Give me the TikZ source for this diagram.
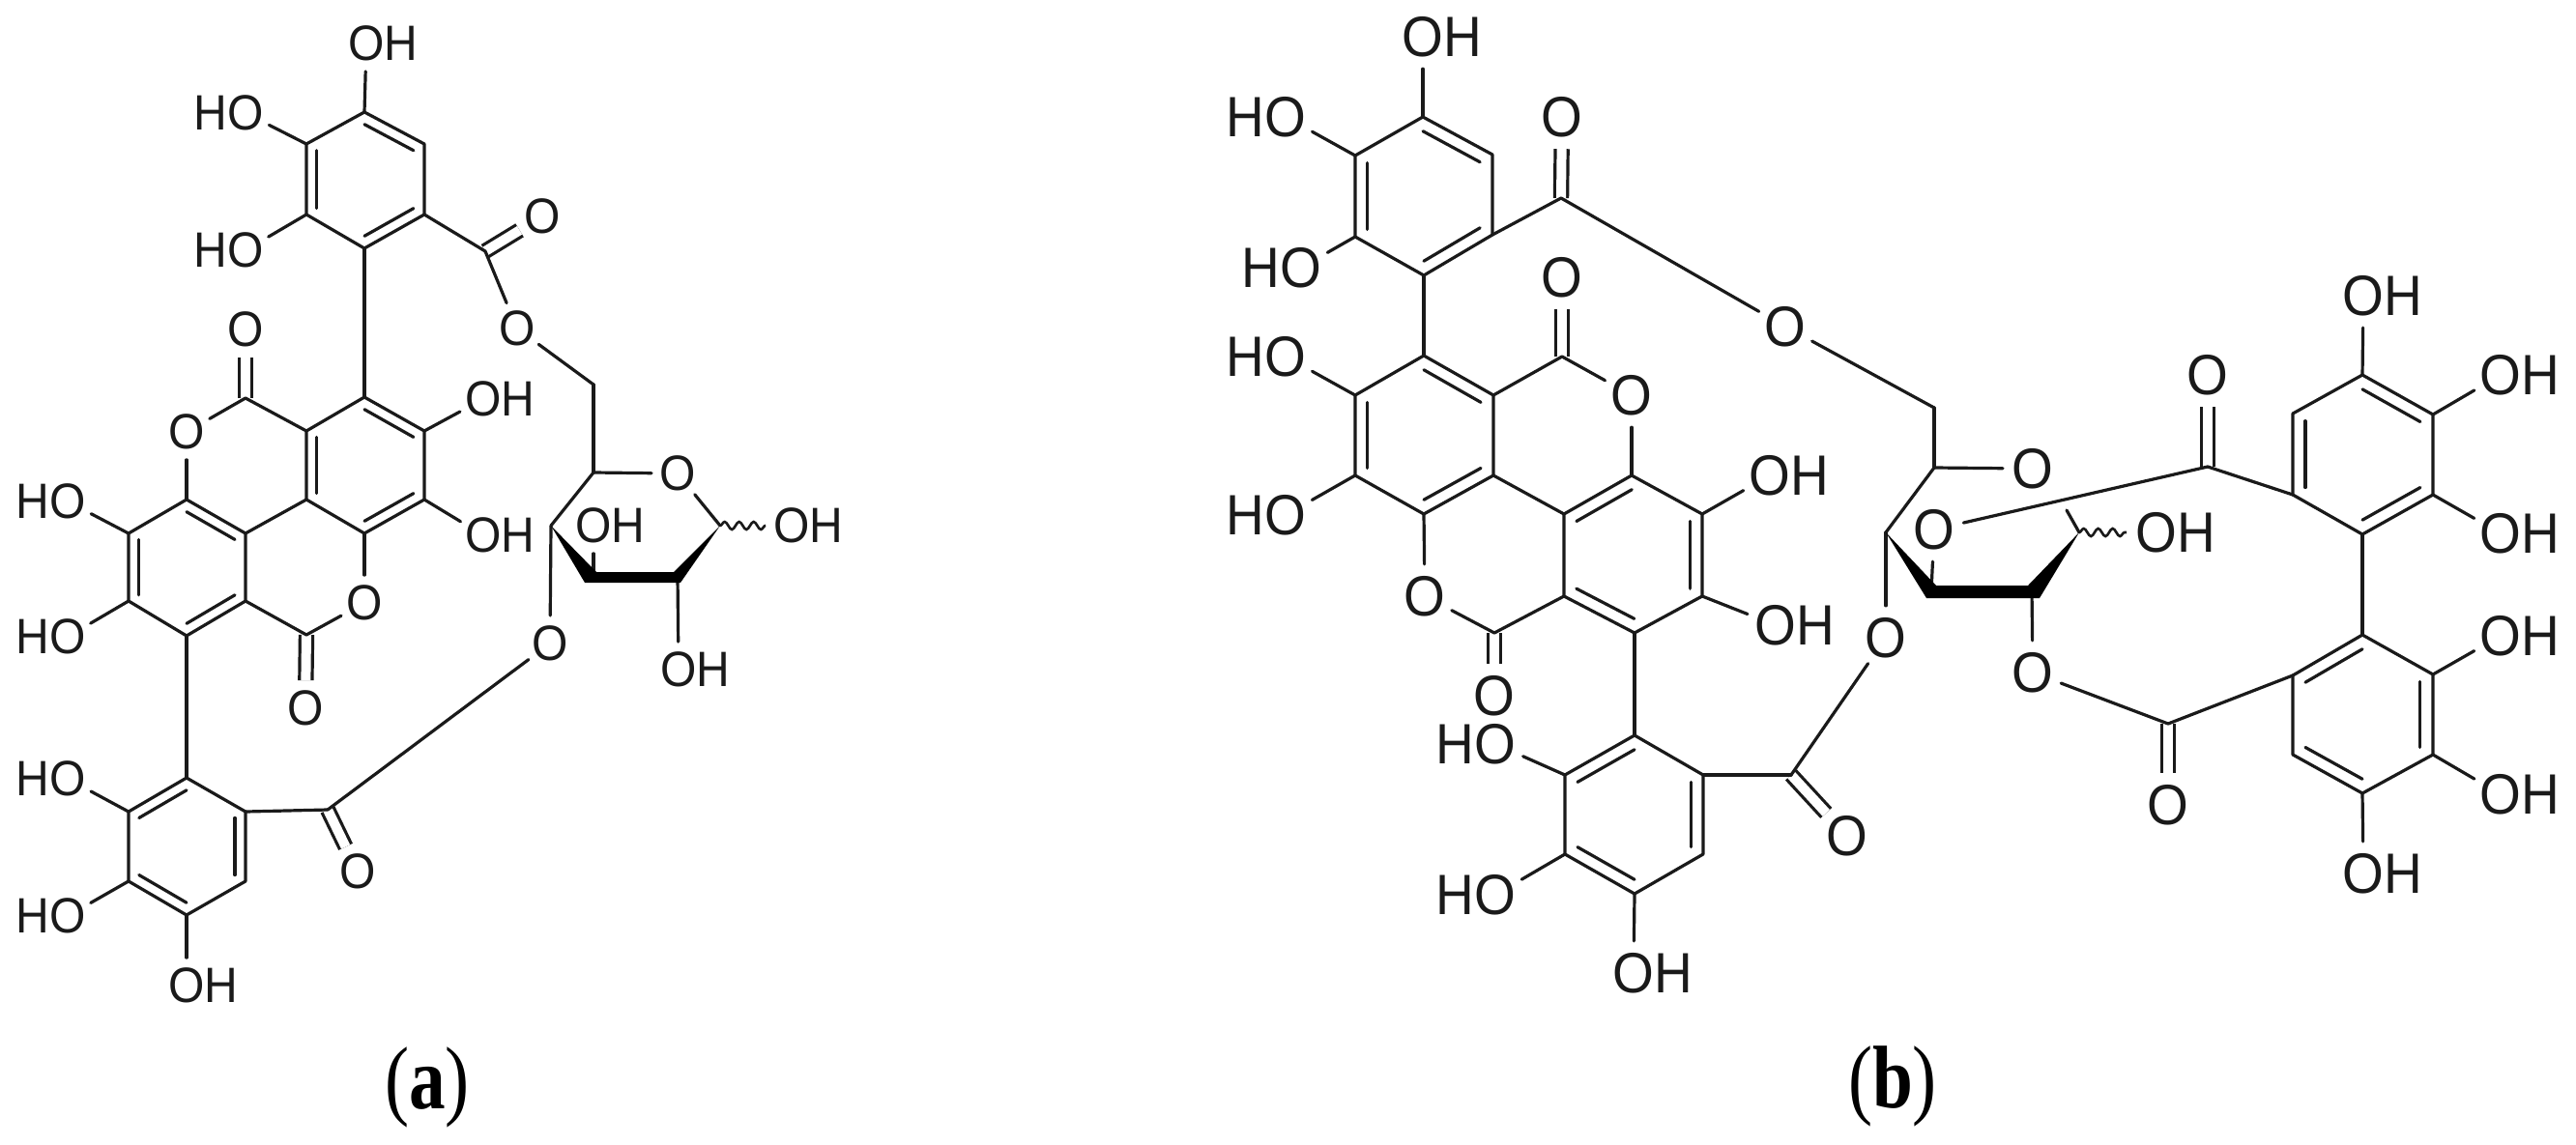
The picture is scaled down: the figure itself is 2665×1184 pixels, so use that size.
\documentclass[tikz,border=0pt]{standalone}
\usepackage{fontspec}
\setmainfont{Liberation Serif}
\newfontfamily\chemfont{Liberation Sans}
\usetikzlibrary{calc,decorations.pathmorphing}
\definecolor{ink}{HTML}{1A1A1A}
\newcommand\OH{O\rlap{H}}
\newcommand\HO{\llap{H}O}
\newcommand\vx[3]{\coordinate (#1) at (#2,#3);}
% six ring vertices: prefix, then top, upper right, lower right, bottom, lower left, upper left
\newcommand\hexring[7]{%
  \coordinate (#11) at #2; \coordinate (#12) at #3; \coordinate (#13) at #4;
  \coordinate (#14) at #5; \coordinate (#15) at #6; \coordinate (#16) at #7;
  \coordinate (#1c) at ($(#11)!.5!(#14)$);
  \draw[bond] (#11)--(#12)--(#13)--(#14)--(#15)--(#16)--cycle;}
\newcommand\idbl[3]{\draw[bond] ($(#1#2)!.18!(#1c)$) -- ($(#1#3)!.18!(#1c)$);}
\tikzset{
  bond/.style={line width=1.6pt,draw=ink,line cap=round,line join=round},
  cobond/.style={draw=ink,double=white,line width=1.6pt,double distance=5pt},
  wavy/.style={line width=1.3pt,draw=ink,decorate,decoration={snake,amplitude=2pt,segment length=7.5pt}},
  wedge/.style={fill=black,draw=none},
  atoma/.style={circle,inner sep=0pt,outer sep=0pt,minimum size=27pt,text=ink,yscale=1.07,transform shape,font=\chemfont\fontsize{24}{24}\selectfont},
  atomb/.style={circle,inner sep=0pt,outer sep=0pt,minimum size=31pt,text=ink,yscale=1.07,transform shape,font=\chemfont\fontsize{27.5}{27.5}\selectfont},
  panel/.style={text=black,xscale=.94,yscale=1.15,transform shape,font=\fontsize{40}{40}\selectfont,inner sep=0pt}
}
\begin{document}
\begin{tikzpicture}[x=0.5pt,y=-0.5pt]
\useasboundingbox (0,0) rectangle (2665,1184);
%%%%%%%%%%%%%%%%%%%%%%%% panel (a)
\hexring{at}{(377,116)}{(439,149)}{(439,222)}{(377,257)}{(317,222)}{(317,149)}
\hexring{am}{(377,411)}{(439,446)}{(439,517)}{(377,552)}{(317,517)}{(317,446)}
\hexring{al}{(193,517)}{(254,552)}{(254,622)}{(193,658)}{(133,622)}{(133,552)}
\hexring{ad}{(193,805)}{(254,840)}{(254,912)}{(193,947)}{(133,912)}{(133,840)}
\idbl{at}{1}{2}\idbl{at}{6}{5}\idbl{at}{3}{4}
\idbl{am}{1}{2}\idbl{am}{6}{5}\idbl{am}{3}{4}
\idbl{al}{1}{2}\idbl{al}{6}{5}\idbl{al}{3}{4}
\idbl{ad}{1}{6}\idbl{ad}{2}{3}\idbl{ad}{5}{4}
\vx{acu}{502}{260}\vx{acl}{254}{412}\vx{acm}{317}{657}\vx{acd}{339}{838}
\vx{ach}{614}{398}\vx{a5}{614}{489}\vx{a4}{570}{544}\vx{a3}{614}{597}\vx{a2}{701}{597}\vx{a1}{745}{544}
\node[atoma] (aoh1) at (379,45) {\OH};
\node[atoma] (aho2) at (254,117) {\HO};
\node[atoma] (aho3) at (254,259) {\HO};
\node[atoma] (aou) at (561,224) {O};
\node[atoma] (aoe) at (535,340) {O};
\node[atoma] (aol) at (254,341) {O};
\node[atoma] (aor1) at (193,447) {O};
\node[atoma] (aoh4) at (500,413) {\OH};
\node[atoma] (aoh5) at (500,554) {\OH};
\node[atoma] (aho6) at (70,519) {\HO};
\node[atoma] (aho7) at (70,659) {\HO};
\node[atoma] (aor2) at (377,624) {O};
\node[atoma] (aom) at (316,733) {O};
\node[atoma] (aho8) at (70,806) {\HO};
\node[atoma] (aho9) at (70,948) {\HO};
\node[atoma] (aoh10) at (193,1020) {\OH};
\node[atoma] (aod) at (370,902) {O};
\node[atoma] (aos) at (569,666) {O};
\node[atoma] (aor) at (701,490) {O};
\node[atoma] (aoh11) at (614,544) {\OH};
\node[atoma] (aoh12) at (819,544) {\OH};
\node[atoma] (aoh13) at (702,693) {\OH};
\foreach \p/\q in {acu/aou,acl/aol,acm/aom,acd/aod}
  \draw[cobond] (\p) -- (\q);
\foreach \p/\q in {at1/aoh1,at6/aho2,at5/aho3,at3/acu,acu/aoe,aoe/ach,ach/a5,a5/aor,aor/a1,a5/a4,
  at4/am1,am2/aoh4,am3/aoh5,am6/acl,acl/aor1,aor1/al1,al2/am5,al6/aho6,al5/aho7,am4/aor2,aor2/acm,acm/al3,
  al4/ad1,ad6/aho8,ad5/aho9,ad4/aoh10,ad2/acd,acd/aos,aos/a4,a3/aoh11,a2/aoh13}
  \draw[bond] (\p) -- (\q);
\draw[wavy] (a1) -- (aoh12);
\fill[wedge] (a4) -- (617,592) -- (697,592) -- (a1) -- (704,603) -- (605,603) -- cycle;
\node[panel] (la) at (442,1125) {(\textbf{a})};
%%%%%%%%%%%%%%%%%%%%%%%% panel (b)
\hexring{bt}{(1472,121)}{(1544,160)}{(1544,243)}{(1473,285)}{(1402,245)}{(1402,161)}
\hexring{bm}{(1473,368)}{(1545,409)}{(1545,492)}{(1473,532)}{(1402,492)}{(1402,409)}
\hexring{bl}{(1688,492)}{(1761,532)}{(1761,617)}{(1691,655)}{(1618,617)}{(1618,532)}
\hexring{bd}{(1691,761)}{(1762,802)}{(1762,884)}{(1691,925)}{(1619,884)}{(1619,802)}
\hexring{br}{(2444,388)}{(2517,429)}{(2517,512)}{(2444,553)}{(2372,512)}{(2372,428)}
\hexring{bs}{(2444,657)}{(2517,698)}{(2517,781)}{(2444,821)}{(2372,781)}{(2372,699)}
\idbl{bt}{1}{2}\idbl{bt}{6}{5}\idbl{bt}{3}{4}
\idbl{bm}{1}{2}\idbl{bm}{6}{5}\idbl{bm}{3}{4}
\idbl{bl}{1}{6}\idbl{bl}{2}{3}\idbl{bl}{5}{4}
\idbl{bd}{1}{6}\idbl{bd}{2}{3}\idbl{bd}{5}{4}
\idbl{br}{1}{2}\idbl{br}{6}{5}\idbl{br}{3}{4}
\idbl{bs}{1}{6}\idbl{bs}{2}{3}\idbl{bs}{5}{4}
\vx{bcu}{1615}{205}\vx{bcm}{1616}{369}\vx{bcl}{1546}{655}\vx{bcd}{1853}{802}
\vx{bcr}{2284}{483}\vx{bcs}{2243}{749}
\vx{bch}{2001}{422}\vx{b5}{2001}{484}\vx{b4}{1951}{551}\vx{b3}{1998}{612}\vx{b2}{2102}{612}\vx{b1}{2151}{551}\vx{bst}{2138}{528}
\node[atomb] (boh1) at (1472,38) {\OH};
\node[atomb] (bho2) at (1330,121) {\HO};
\node[atomb] (bho3) at (1346,277) {\HO};
\node[atomb] (bou) at (1616,121) {O};
\node[atomb] (boe) at (1847,338) {O};
\node[atomb] (bom) at (1616,287) {O};
\node[atomb] (bho4) at (1330,369) {\HO};
\node[atomb] (bho5) at (1330,533) {\HO};
\node[atomb] (bor1) at (1688,409) {O};
\node[atomb] (boh6) at (1831,492) {\OH};
\node[atomb] (boh7) at (1837,647) {\OH};
\node[atomb] (bor2) at (1474,617) {O};
\node[atomb] (bol) at (1546,720) {O};
\node[atomb] (bho8) at (1547,770) {\HO};
\node[atomb] (bho9) at (1547,926) {\HO};
\node[atomb] (boh10) at (1690,1007) {\OH};
\node[atomb] (bod) at (1911,865) {O};
\node[atomb] (bo4) at (1951,660) {O};
\node[atomb] (bor) at (2103,485) {O};
\node[atomb] (bo3) at (2001,548) {O};
\node[atomb] (boh11) at (2231,551) {\OH};
\node[atomb] (bo2) at (2103,696) {O};
\node[atomb] (bor3) at (2284,388) {O};
\node[atomb] (bos) at (2243,833) {O};
\node[atomb] (boh12) at (2445,306) {\OH};
\node[atomb] (boh13) at (2587,388) {\OH};
\node[atomb] (boh14) at (2587,552) {\OH};
\node[atomb] (boh15) at (2587,658) {\OH};
\node[atomb] (boh16) at (2587,822) {\OH};
\node[atomb] (boh17) at (2445,904) {\OH};
\foreach \p/\q in {bcu/bou,bcm/bom,bcl/bol,bcd/bod,bcr/bor3,bcs/bos}
  \draw[cobond] (\p) -- (\q);
\foreach \p/\q in {bt1/boh1,bt6/bho2,bt5/bho3,bt3/bcu,bcu/boe,boe/bch,bch/b5,b5/bor,b5/b4,
  bt4/bm1,bm6/bho4,bm5/bho5,bm2/bcm,bcm/bor1,bor1/bl1,bl6/bm3,bl2/boh6,bl3/boh7,bm4/bor2,bor2/bcl,bcl/bl5,
  bl4/bd1,bd6/bho8,bd5/bho9,bd4/boh10,bd2/bcd,bcd/bo4,bo4/b4,b3/bo3,bo3/bcr,bcr/br5,b2/bo2,bo2/bcs,bcs/bs6,
  br4/bs1,br1/boh12,br2/boh13,br3/boh14,bs2/boh15,bs3/boh16,bs4/boh17,b1/bst}
  \draw[bond] (\p) -- (\q);
\draw[wavy] (b1) -- (boh11);
\fill[wedge] (b4) -- (2003,606) -- (2098,606) -- (b1) -- (2110,619) -- (1993,619) -- cycle;
\node[panel] (lb) at (1958,1124) {(\textbf{b})};
\end{tikzpicture}
\end{document}
